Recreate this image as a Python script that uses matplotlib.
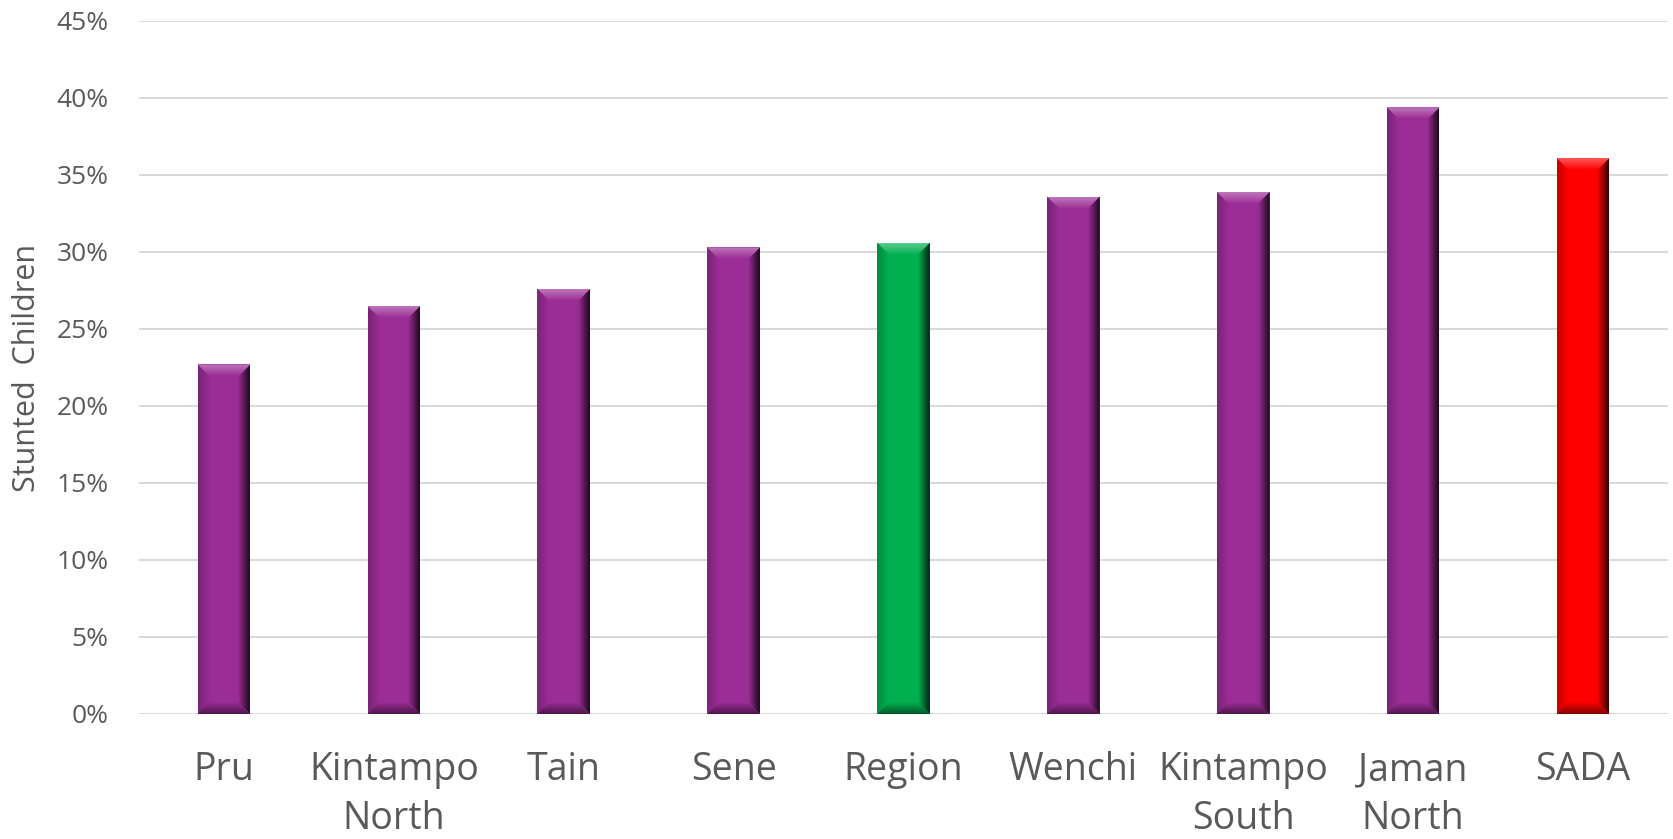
import numpy as np
import matplotlib.pyplot as plt
from matplotlib.colors import to_rgb
from matplotlib.patches import Polygon

plt.rcParams['font.family'] = ['Open Sans', 'DejaVu Sans']

districts = ['Pru', 'Kintampo\nNorth', 'Tain', 'Sene', 'Region', 'Wenchi',
             'Kintampo\nSouth', 'Jaman\nNorth', 'SADA']
stunted = [22.7, 26.5, 27.6, 30.3, 30.6, 33.6, 33.9, 39.4, 36.1]
bar_colors = ['#9b2d96'] * 4 + ['#00b050'] + ['#9b2d96'] * 3 + ['#ff0000']
yticks = list(range(0, 50, 5))

W, H = 1673, 839
fig = plt.figure(figsize=(W / 100, H / 100), dpi=100)
left, bottom, right, top = 0.0831, 0.149, 0.997, 0.975
ax = fig.add_axes([left, bottom, right - left, top - bottom])

xlim = (-0.5, len(districts) - 0.5)
ylim = (0, 45)

for y in yticks:
    ax.axhline(y, color='#d9d9d9', lw=1.4, zorder=0)

width = 0.31
ax.bar(range(len(districts)), stunted, width=width, color=bar_colors, zorder=2)

# bevel size in data units (about 12 px on each side)
px_x = (xlim[1] - xlim[0]) / ((right - left) * W)
px_y = (ylim[1] - ylim[0]) / ((top - bottom) * H)
bx, by = 12 * px_x, 12 * px_y


def shade(c, f):
    c = np.array(to_rgb(c))
    if f >= 1:
        return c + (1 - c) * (f - 1)
    return c * f


def gradient(c0, c1, n, axis):
    t = np.linspace(0, 1, n)
    cols = np.outer(1 - t, c0) + np.outer(t, c1)
    if axis == 'x':
        return cols[np.newaxis, :, :]
    return cols[:, np.newaxis, :]


def bevel(poly_pts, extent, c0, c1, axis):
    poly = Polygon(poly_pts, closed=True, fc='none', ec='none')
    ax.add_patch(poly)
    im = ax.imshow(gradient(c0, c1, 64, axis), extent=extent, origin='lower',
                   aspect='auto', interpolation='bilinear', zorder=3)
    im.set_clip_path(poly)


for i, (h, c) in enumerate(zip(stunted, bar_colors)):
    x0, x1 = i - width / 2, i + width / 2
    base = shade(c, 1.0)
    # left side
    bevel([(x0, 0), (x0 + bx, by), (x0 + bx, h - by), (x0, h)],
          (x0, x0 + bx, 0, h), shade(c, 0.78), base, 'x')
    # right side, dark edge
    bevel([(x1, 0), (x1, h), (x1 - bx, h - by), (x1 - bx, by)],
          (x1 - bx, x1, 0, h), base, shade(c, 0.2), 'x')
    # top, lit
    bevel([(x0, h), (x1, h), (x1 - bx, h - by), (x0 + bx, h - by)],
          (x0, x1, h - by, h), base, shade(c, 1.35), 'y')
    # bottom, shadowed
    bevel([(x0, 0), (x1, 0), (x1 - bx, by), (x0 + bx, by)],
          (x0, x1, 0, by), shade(c, 0.5), base, 'y')

ax.set_xlim(*xlim)
ax.set_ylim(*ylim)
ax.set_yticks(yticks)
ax.set_yticklabels([f'{v}%' for v in yticks], fontsize=19, color='#595959')
ax.set_xticks(range(len(districts)))
ax.set_xticklabels(districts, fontsize=27, color='#595959', linespacing=1.36)
ax.tick_params(length=0)
ax.tick_params(axis='x', pad=27)
ax.tick_params(axis='y', pad=22)
for s in ax.spines.values():
    s.set_visible(False)
ax.set_ylabel('Stunted  Children', fontsize=22, color='#595959', labelpad=10)

fig.savefig('out.png', dpi=100)
